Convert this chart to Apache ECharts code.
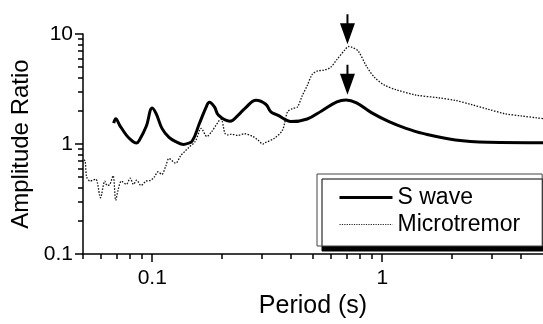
<!DOCTYPE html>
<html>
<head>
<meta charset="utf-8">
<script src="https://cdn.jsdelivr.net/npm/echarts@6/dist/echarts.min.js"></script>
<style>
html,body{margin:0;padding:0;background:#fff;}
#c{width:543px;height:324px;}
</style>
</head>
<body>
<div id="c"></div>
<script>
// ---- data ----
const sWavePeriod = [0.068,0.0694,0.0722,0.0773,0.0821,0.0853,0.088,0.0942,0.1000,0.104,0.1104,0.1183,0.1268,0.137,0.1395,0.149,0.160,0.1727,0.177,0.1864,0.194,0.218,0.236,0.2524,0.283,0.3116,0.328,0.351,0.3873,0.40,0.472,0.547,0.635,0.696,0.773,0.897,1.07,1.268,1.50,2.08,2.89,5.0];
const sWaveRatio  = [1.55,1.70,1.48,1.20,1.06,1.02,1.09,1.45,2.13,1.89,1.38,1.15,1.05,0.99,1.00,1.06,1.52,2.24,2.40,2.18,1.83,1.61,1.82,2.10,2.50,2.30,1.96,1.83,1.63,1.60,1.69,2.01,2.42,2.52,2.37,1.93,1.60,1.39,1.25,1.09,1.04,1.03];

const microPeriod = [0.0505,0.0511,0.0519,0.0537,0.0551,0.0569,0.0577,0.0596,0.0622,0.0637,0.0654,0.0676,0.0694,0.0710,0.0734,0.0771,0.0802,0.0829,0.0856,0.0894,0.0940,0.0987,0.1020,0.1061,0.1101,0.1145,0.1183,0.1264,0.1328,0.1395,0.1442,0.154,0.1634,0.1727,0.1815,0.199,0.2072,0.214,0.2211,0.2362,0.2524,0.2741,0.2879,0.303,0.3076,0.34,0.3686,0.3873,0.4069,0.4275,0.4493,0.4720,0.496,0.521,0.557,0.594,0.635,0.689,0.713,0.736,0.786,0.854,0.927,1.023,1.148,1.399,1.762,2.078,2.449,2.888,3.404,4.018,4.705,5.0];
const microRatio  = [0.72,0.70,0.50,0.46,0.47,0.48,0.45,0.325,0.46,0.42,0.43,0.515,0.308,0.38,0.46,0.43,0.49,0.43,0.47,0.42,0.46,0.47,0.50,0.56,0.53,0.63,0.74,0.67,0.78,0.87,0.93,1.06,1.39,1.17,1.30,1.68,1.25,1.21,1.23,1.20,1.24,1.17,1.09,1.00,1.02,1.13,1.34,1.96,2.10,2.17,2.76,3.40,4.30,4.60,4.70,4.94,5.86,7.20,7.70,7.60,7.00,5.10,4.02,3.43,3.12,2.79,2.63,2.49,2.28,2.07,1.89,1.80,1.73,1.70];

const arrowPeriod = [0.706, 0.706];
const arrowTip    = [8.09, 2.81];

const xMajorTicks = [0.1, 1];
const xMinorTicks = [0.05,0.06,0.07,0.08,0.09,0.2,0.3,0.4,0.5,0.6,0.7,0.8,0.9,2,3,4];
const yMajorTicks = [0.1, 1, 10];
const yMinorTicks = [0.2,0.3,0.4,0.5,0.6,0.7,0.8,0.9,2,3,4,5,6,7,8,9];

const xTitle = 'Period (s)';
const yTitle = 'Amplitude Ratio';
const seriesNames = ['S wave', 'Microtremor'];

// ---- chart ----
const FONT = "'Liberation Sans', Arial, Helvetica, sans-serif";
const pairs = (xs, ys) => xs.map((x, i) => [x, ys[i]]);
const fmt = v => String(+(+v).toPrecision(6));

const chart = echarts.init(document.getElementById('c'), null, {renderer: 'canvas'});

const baseX = {type: 'log', logBase: 10, min: 0.05, max: 5, gridIndex: 0, splitLine: {show: false}};
const baseY = {type: 'log', logBase: 10, min: 0.1, max: 10, gridIndex: 0, splitLine: {show: false}};

chart.setOption({
  animation: false,
  backgroundColor: '#fff',
  grid: {left: 83, right: -6, top: 34, bottom: 66, containLabel: false},
  xAxis: [
    Object.assign({}, baseX, {
      position: 'bottom',
      name: xTitle, nameLocation: 'middle', nameGap: 34,
      nameTextStyle: {fontSize: 25, color: '#000', fontFamily: FONT},
      axisLine: {show: true, lineStyle: {color: '#000', width: 1.5}},
      axisTick: {show: true, inside: false, length: 8, customValues: xMajorTicks, lineStyle: {color: '#000', width: 1.5}},
      axisLabel: {show: true, margin: 14, fontSize: 21, color: '#000', fontFamily: FONT, customValues: xMajorTicks, formatter: fmt}
    }),
    Object.assign({}, baseX, {
      position: 'bottom',
      axisLine: {show: false},
      axisTick: {show: true, inside: false, length: 5, customValues: xMinorTicks, lineStyle: {color: '#000', width: 1.5}},
      axisLabel: {show: false}
    })
  ],
  yAxis: [
    Object.assign({}, baseY, {
      position: 'left',
      name: yTitle, nameLocation: 'middle', nameGap: 45, nameRotate: 90,
      nameTextStyle: {fontSize: 24, color: '#000', fontFamily: FONT},
      axisLine: {show: true, lineStyle: {color: '#000', width: 1.5}},
      axisTick: {show: true, inside: false, length: 8, customValues: yMajorTicks, lineStyle: {color: '#000', width: 1.5}},
      axisLabel: {show: true, margin: 10, fontSize: 21, color: '#000', fontFamily: FONT, customValues: yMajorTicks, formatter: fmt}
    }),
    Object.assign({}, baseY, {
      position: 'left',
      axisLine: {show: false},
      axisTick: {show: true, inside: false, length: 5, customValues: yMinorTicks, lineStyle: {color: '#000', width: 1.5}},
      axisLabel: {show: false}
    })
  ],
  legend: {
    data: [
      {name: seriesNames[0], lineStyle: {width: 3, color: '#000'}},
      {name: seriesNames[1], lineStyle: {width: 1, color: '#222', type: [1.2, 1.2]}}
    ],
    orient: 'vertical',
    left: 317, top: 174,
    padding: [12, 22, 10, 21],
    itemWidth: 53, itemHeight: 14, itemGap: 4,
    backgroundColor: '#fff',
    borderColor: '#444', borderWidth: 1,
    shadowColor: '#000', shadowOffsetX: 5, shadowOffsetY: 5, shadowBlur: 0,
    itemStyle: {color: 'rgba(0,0,0,0)', borderWidth: 0, opacity: 0},
    textStyle: {fontSize: 23, color: '#000', fontFamily: FONT, lineHeight: 22},
    selectedMode: false
  },
  series: [
    {
      name: seriesNames[1], type: 'line', xAxisIndex: 0, yAxisIndex: 0,
      data: pairs(microPeriod, microRatio),
      symbol: 'none', smooth: 0.3, clip: true,
      lineStyle: {color: '#111', width: 1.3, type: [1.5, 1.5]},
      itemStyle: {color: '#111'},
      z: 2
    },
    {
      name: seriesNames[0], type: 'line', xAxisIndex: 0, yAxisIndex: 0,
      data: pairs(sWavePeriod, sWaveRatio),
      symbol: 'none', smooth: 0.4, clip: true,
      lineStyle: {color: '#000', width: 3},
      itemStyle: {color: '#000'},
      z: 3
    },
    {
      name: 'arrows', type: 'scatter', xAxisIndex: 0, yAxisIndex: 0,
      data: pairs(arrowPeriod, arrowTip),
      symbol: 'path://M6.5,0 L8.5,0 L8.5,9 L15,9 L7.5,30 L0,9 L6.5,9 Z',
      symbolSize: [15, 30], symbolOffset: [0, -15], symbolKeepAspect: false,
      itemStyle: {color: '#000', opacity: 1},
      clip: false, silent: true, z: 4
    }
  ]
});
</script>
</body>
</html>
